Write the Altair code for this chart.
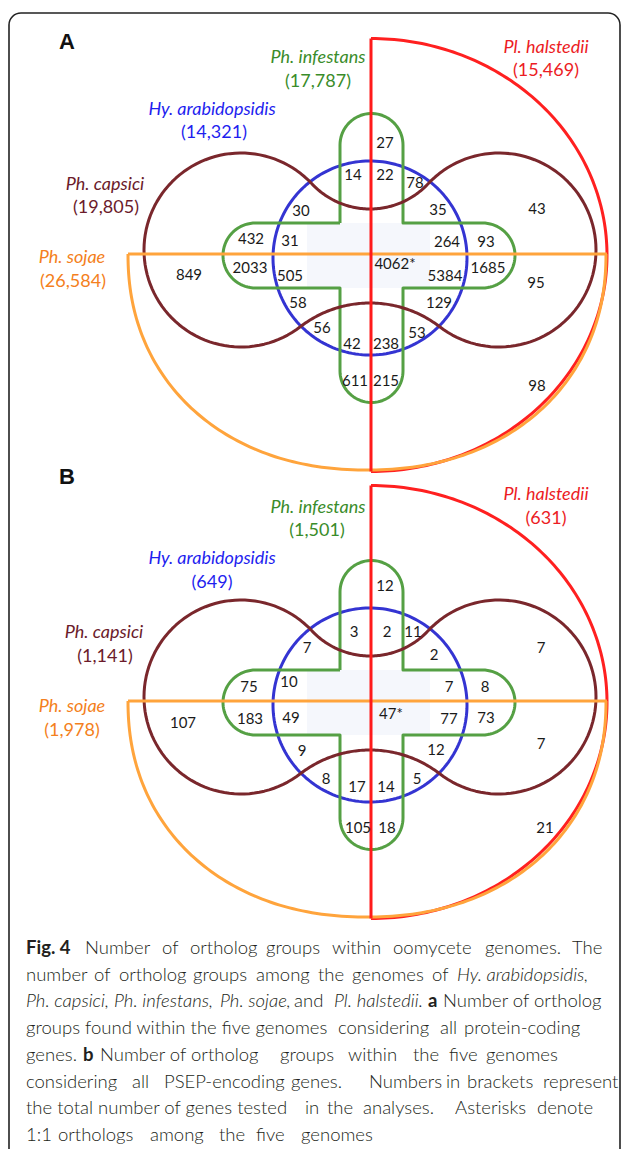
import numpy as np
import pandas as pd
import altair as alt

# ---------------- data ----------------
panel_letters = ["A", "B"]
species_names = ["Ph. infestans", "Hy. arabidopsidis", "Ph. capsici", "Ph. sojae", "Pl. halstedii"]
species_text_colors = ["#3a8c2a", "#1f1fef", "#6b1b2b", "#f47f20", "#ec1c24"]
totals_A = [17787, 14321, 19805, 26584, 15469]
totals_B = [1501, 649, 1141, 1978, 631]
# region counts, same region order in both panels
counts_A = [27, 14, 22, 78, 30, 35, 432, 31, 264, 93, 849, 2033, 505, 4062, 5384, 1685,
            58, 129, 56, 53, 42, 238, 611, 215, 43, 95, 98]
counts_B = [12, 3, 2, 11, 7, 2, 75, 10, 7, 8, 107, 183, 49, 47, 77, 73,
            9, 12, 8, 5, 17, 14, 105, 18, 7, 7, 21]
core_region = 13  # 1:1 orthologs among the five genomes (asterisk)

caption_segments = [
    [("Fig. 4", "b"), ("Number", "n"), ("of", "n"), ("ortholog", "n"), ("groups", "n"), ("within", "n"),
     ("oomycete", "n"), ("genomes.", "n"), ("The", "n")],
    [("number", "n"), ("of", "n"), ("ortholog", "n"), ("groups", "n"), ("among", "n"), ("the", "n"),
     ("genomes", "n"), ("of", "n"), ("Hy. arabidopsidis,", "i")],
    [("Ph. capsici,", "i"), ("Ph. infestans,", "i"), ("Ph. sojae,", "i"), ("and", "n"),
     ("Pl. halstedii.", "i"), ("a", "b"), ("Number of ortholog", "n")],
    [("groups found within the five genomes", "n"), ("considering", "n"), ("all", "n"),
     ("protein-coding", "n")],
    [("genes.", "n"), ("b", "b"), ("Number of ortholog", "n"), ("groups", "n"), ("within", "n"),
     ("the", "n"), ("five", "n"), ("genomes", "n")],
    [("considering", "n"), ("all", "n"), ("PSEP-encoding", "n"), ("genes.", "n"),
     ("Numbers", "n"), ("in", "n"), ("brackets", "n"), ("represent", "n")],
    [("the total number of genes tested", "n"), ("in", "n"), ("the", "n"),
     ("analyses.", "n"), ("Asterisks", "n"), ("denote", "n")],
    [("1:1", "n"), ("orthologs", "n"), ("among", "n"), ("the", "n"), ("five", "n"), ("genomes", "n")],
]

# ---------------- layout (pixel positions) ----------------
W, H = 613, 1141
X0, Y0 = 8, 8
PANEL_DY = 447

letter_pos = [(67, 42), (67, 477)]
name_pos_A = [(318, 58), (212, 110), (105, 185), (72, 258), (546, 48)]
total_pos_A = [(318, 82), (214, 133), (106, 208), (73, 282), (546, 71)]
name_pos_B = [(318, 508), (212, 559), (104, 633), (72, 707), (546, 495)]
total_pos_B = [(317, 531), (212, 583), (105, 657), (72, 731), (546, 519)]

region_pos_A = [(385, 143), (353, 175), (385, 175), (415, 183), (301, 211), (438, 210),
                (251, 239), (290, 241), (447, 242), (486, 242), (189, 275), (250, 268),
                (290, 276), (395, 264), (445, 276), (488, 268), (298, 303), (439, 303),
                (322, 328), (417, 333), (352, 344), (386, 344), (355, 381), (386, 381),
                (537, 209), (536, 283), (537, 386)]
region_pos_B = [(385, 586), (354, 632), (387, 632), (413, 632), (307, 648), (434, 655),
                (249, 687), (289, 682), (449, 687), (485, 687), (183, 723), (250, 719),
                (291, 718), (391, 714), (449, 719), (486, 718), (302, 751), (436, 750),
                (326, 779), (417, 779), (357, 787), (386, 787), (358, 828), (387, 828),
                (541, 648), (541, 744), (545, 828)]

caption_y0, caption_dy = 948, 26.7
caption_x = [
    [26, 85, 162, 190, 266, 332, 393, 485, 572],
    [26, 94, 119, 193, 256, 318, 352, 432, 457],
    [26, 114, 220, 294, 334, 428, 443],
    [26, 338, 440, 464],
    [26, 83, 100, 280, 348, 413, 449, 486],
    [26, 132, 164, 291, 369, 446, 467, 543],
    [26, 305, 327, 363, 455, 537],
    [26, 58, 150, 219, 256, 301],
]

xs = alt.Scale(domain=[X0, X0 + W], range=[0, W], nice=False, zero=False)
ys = alt.Scale(domain=[Y0, Y0 + H], range=[0, H], nice=False, zero=False)


# ---------------- geometry helpers ----------------
def arc(cx, cy, rx, ry, a0, a1, n=90, p=2.0):
    t = np.radians(np.linspace(a0, a1, n))
    c, s = np.cos(t), np.sin(t)
    e = 2.0 / p
    return list(zip(cx + rx * np.sign(c) * np.abs(c) ** e, cy + ry * np.sign(s) * np.abs(s) ** e))


def capsici_path(dy):
    L = np.array([241.0, 250.0 + dy])
    R = np.array([499.0, 250.0 + dy])
    r = 97.0
    cx = 370.0
    dxl = cx - L[0]
    e_t = 41.0
    e_b = 53.0
    Rt = (dxl ** 2 + e_t ** 2 - r ** 2) / (2 * (r - e_t))
    Rb = (dxl ** 2 + e_b ** 2 - r ** 2) / (2 * (r - e_b))
    Ct = np.array([cx, L[1] - e_t - Rt])
    Cb = np.array([cx, L[1] + e_b + Rb])

    def ang(v):
        return np.degrees(np.arctan2(v[1], v[0]))

    pts = []
    pts += arc(L[0], L[1], r, r, ang(Ct - L), ang(Cb - L) - 360)
    pts += arc(Cb[0], Cb[1], Rb, Rb, ang(L - Cb), ang(R - Cb))
    pts += arc(R[0], R[1], r, r, ang(Cb - R), ang(Ct - R))
    pts += arc(Ct[0], Ct[1], Rt, Rt, ang(R - Ct), ang(L - Ct))
    pts.append(pts[0])
    return pts


def cross_path(dy):
    pts = [(340, 223 + dy), (340, 145 + dy)]
    pts += arc(371.5, 145 + dy, 31.5, 31.5, 180, 360, 40)
    pts += [(403, 223 + dy), (482.5, 223 + dy)]
    pts += arc(482.5, 255.5 + dy, 32.5, 32.5, -90, 90, 40)
    pts += [(403, 288 + dy), (403, 371 + dy)]
    pts += arc(371.5, 371 + dy, 31.5, 31.5, 0, 180, 40)
    pts += [(340, 288 + dy), (255.5, 288 + dy)]
    pts += arc(255.5, 255.5 + dy, 32.5, 32.5, 90, 270, 40)
    pts += [(340, 223 + dy)]
    return pts


def to_df(paths):
    rows = []
    for pid, pts in paths:
        for i, (x, y) in enumerate(pts):
            rows.append({"pid": pid, "i": i, "x": float(x), "y": float(y)})
    return pd.DataFrame(rows)


shapes = {"blue": [], "green": [], "darkred": [], "redarc": [], "orange": [], "redline": []}
fills = []
for k in range(2):
    dy = k * PANEL_DY
    shapes["blue"].append((f"b{k}", arc(370, 258 + dy, 97, 97, 0, 360, 180)))
    shapes["green"].append((f"g{k}", cross_path(dy)))
    shapes["darkred"].append((f"d{k}", capsici_path(dy)))
    shapes["redarc"].append((f"ra{k}", arc(371, 255 + dy, 236, 216.5, -90, 90, 160)))
    shapes["orange"].append((f"ol{k}", [(128, 254 + dy), (607, 254 + dy)]))
    shapes["orange"].append((f"oa{k}", arc(367, 254 + dy, 239, 216, 0, 180, 160, p=2.15)))
    shapes["redline"].append((f"rl{k}", [(371, 38.5 + dy), (371, 471.5 + dy)]))
    fills.append({"x": 307, "x2": 430, "y": 223 + dy, "y2": 288 + dy})

stroke_style = {
    "blue": ("#3434d2", 3.0),
    "green": ("#55a044", 3.0),
    "darkred": ("#7a272c", 3.0),
    "redarc": ("#ff2020", 3.0),
    "orange": ("#ffa43c", 3.0),
    "redline": ("#ff1a1a", 3.0),
}


def line_layer(key):
    color, w = stroke_style[key]
    return alt.Chart(to_df(shapes[key])).mark_line(
        color=color, strokeWidth=w, strokeJoin="round", strokeCap="butt"
    ).encode(
        x=alt.X("x:Q", scale=xs, axis=None),
        y=alt.Y("y:Q", scale=ys, axis=None),
        detail="pid:N",
        order="i:Q",
    )


border = alt.Chart(pd.DataFrame([{"x": 9, "x2": 620, "y": 13, "y2": 1175}])).mark_rect(
    fillOpacity=0, stroke="#222222", strokeWidth=1.6, cornerRadius=12
).encode(
    x=alt.X("x:Q", scale=xs, axis=None), x2="x2:Q",
    y=alt.Y("y:Q", scale=ys, axis=None), y2="y2:Q",
)

center_fill = alt.Chart(pd.DataFrame(fills)).mark_rect(color="#f5f7fc").encode(
    x=alt.X("x:Q", scale=xs, axis=None), x2="x2:Q",
    y=alt.Y("y:Q", scale=ys, axis=None), y2="y2:Q",
)

# ---------------- text ----------------
letters_df = pd.DataFrame([{"x": p[0], "y": p[1], "t": t} for t, p in zip(panel_letters, letter_pos)])
letters = alt.Chart(letters_df).mark_text(
    font="Liberation Sans", fontWeight="bold", fontSize=22, align="center", baseline="middle", color="#111111"
).encode(x=alt.X("x:Q", scale=xs, axis=None), y=alt.Y("y:Q", scale=ys, axis=None), text="t:N")

name_rows, total_rows = [], []
for names_pos, tot_pos, totals in [(name_pos_A, total_pos_A, totals_A), (name_pos_B, total_pos_B, totals_B)]:
    for j in range(5):
        name_rows.append({"x": names_pos[j][0], "y": names_pos[j][1], "t": species_names[j], "c": species_text_colors[j]})
        total_rows.append({"x": tot_pos[j][0], "y": tot_pos[j][1], "t": f"({totals[j]:,})", "c": species_text_colors[j]})

names = alt.Chart(pd.DataFrame(name_rows)).mark_text(
    font="Lato", fontStyle="italic", fontSize=18, align="center", baseline="middle"
).encode(x=alt.X("x:Q", scale=xs, axis=None), y=alt.Y("y:Q", scale=ys, axis=None), text="t:N",
         color=alt.Color("c:N", scale=None))
totals_txt = alt.Chart(pd.DataFrame(total_rows)).mark_text(
    font="Lato", fontSize=18, align="center", baseline="middle"
).encode(x=alt.X("x:Q", scale=xs, axis=None), y=alt.Y("y:Q", scale=ys, axis=None), text="t:N",
         color=alt.Color("c:N", scale=None))

region_rows = []
for counts, pos in [(counts_A, region_pos_A), (counts_B, region_pos_B)]:
    for j, v in enumerate(counts):
        region_rows.append({"x": pos[j][0], "y": pos[j][1], "t": f"{v}*" if j == core_region else f"{v}"})
regions = alt.Chart(pd.DataFrame(region_rows)).mark_text(
    font="Lato", fontSize=15, align="center", baseline="middle", color="#1a1a1a"
).encode(x=alt.X("x:Q", scale=xs, axis=None), y=alt.Y("y:Q", scale=ys, axis=None), text="t:N")

cap_rows = []
for li, segs in enumerate(caption_segments):
    for si, (t, st) in enumerate(segs):
        cap_rows.append({"x": caption_x[li][si], "y": caption_y0 + li * caption_dy, "t": t, "s": st})
cap_df = pd.DataFrame(cap_rows)


def cap_layer(style, **kw):
    return alt.Chart(cap_df[cap_df.s == style]).mark_text(
        font="Lato", fontSize=18.5, align="left", baseline="middle", color="#231f20", **kw
    ).encode(x=alt.X("x:Q", scale=xs, axis=None), y=alt.Y("y:Q", scale=ys, axis=None), text="t:N")


caption = [cap_layer("n", fontWeight=300), cap_layer("b", fontWeight="bold"),
           cap_layer("i", fontStyle="italic", fontWeight=300)]

chart = alt.layer(
    border, center_fill,
    line_layer("blue"), line_layer("green"), line_layer("darkred"),
    line_layer("redarc"), line_layer("orange"), line_layer("redline"),
    letters, names, totals_txt, regions, *caption,
).properties(width=W, height=H, padding=0, autosize="none", background="white"
).configure_view(strokeWidth=0)

chart.save("out.html", embed_options={"renderer": "svg", "actions": False})
